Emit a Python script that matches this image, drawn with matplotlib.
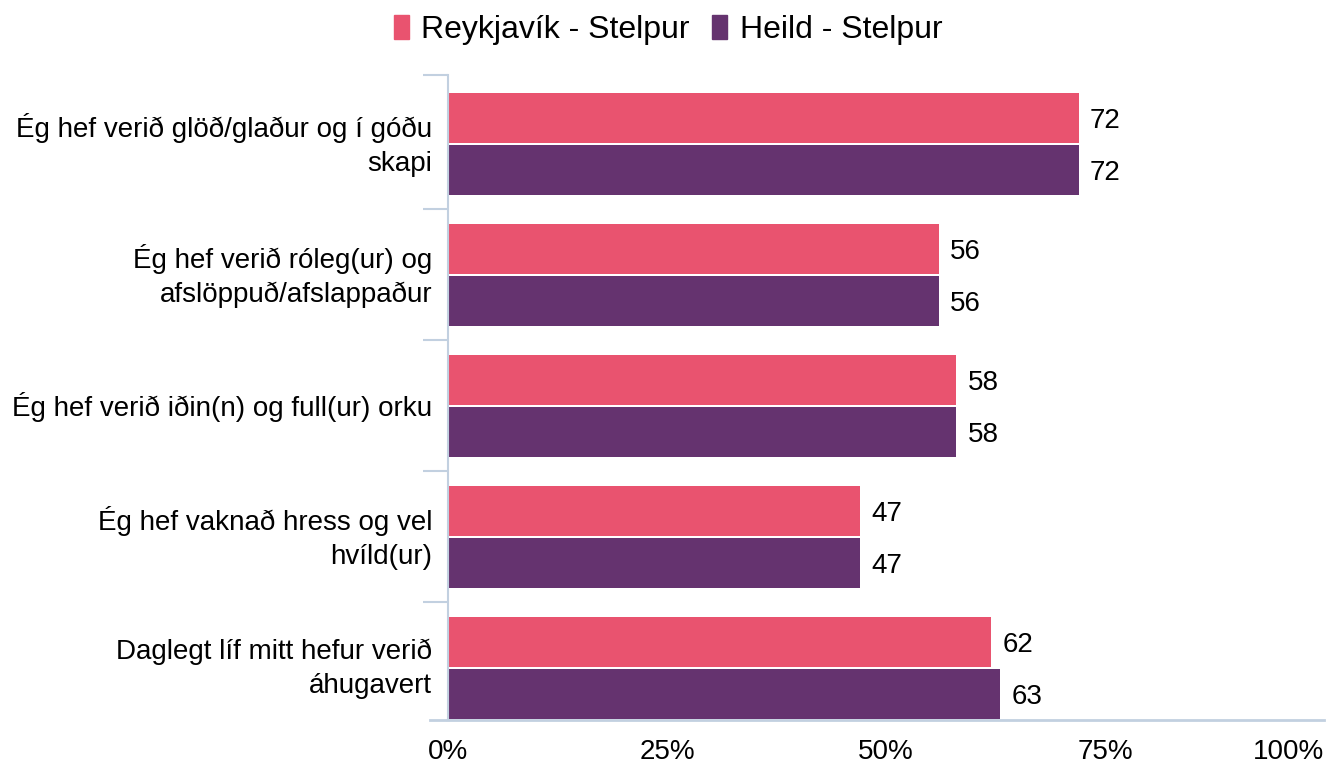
import matplotlib
matplotlib.use("Agg")
import matplotlib.pyplot as plt
from matplotlib.patches import Patch
from matplotlib.lines import Line2D
import numpy as np

categories = [
    "Ég hef verið glöð/glaður og í góðu\nskapi",
    "Ég hef verið róleg(ur) og\nafslöppuð/afslappaður",
    "Ég hef verið iðin(n) og full(ur) orku",
    "Ég hef vaknað hress og vel\nhvíld(ur)",
    "Daglegt líf mitt hefur verið\náhugavert",
]
series_names = ["Reykjavík - Stelpur", "Heild - Stelpur"]
reykjavik = [72, 56, 58, 47, 62]
heild = [72, 56, 58, 47, 63]
xticks = [0, 25, 50, 75, 100]
xticklabels = ["0%", "25%", "50%", "75%", "100%"]

colors = ["#E9536F", "#65336F"]
axis_color = "#C2D0E0"

plt.rcParams['font.family'] = ['Liberation Sans', 'DejaVu Sans']

W, H = 1330, 765
fig = plt.figure(figsize=(W / 100, H / 100), dpi=100)
left, right, top, bottom = 448, 1324, 75, 720
ax = fig.add_axes([left / W, 1 - bottom / H, (right - left) / W, (bottom - top) / H])

y = np.arange(len(categories))
bh = 0.382
off = 0.199
ax.barh(y - off, reykjavik, height=bh, color=colors[0], zorder=2)
ax.barh(y + off, heild, height=bh, color=colors[1], zorder=2)

dy = 0.025
for yi, v in zip(y, reykjavik):
    ax.text(v + 1.3, yi - off + dy, f"{v}", va="center", ha="left", fontsize=20, color="black")
for yi, v in zip(y, heild):
    ax.text(v + 1.3, yi + off + dy, f"{v}", va="center", ha="left", fontsize=20, color="black")

ax.set_xlim(0, 100)
ax.set_ylim(4.40, -0.527)

for s in ["top", "right", "bottom"]:
    ax.spines[s].set_visible(False)
ax.spines["left"].set_color(axis_color)
ax.spines["left"].set_linewidth(1.5)

# category boundary ticks
ax.set_yticks([-0.527, 0.5, 1.5, 2.5, 3.5])
ax.set_yticklabels([])
ax.tick_params(axis="y", length=18, width=1.5, color=axis_color)
for yi, lab in zip(y, categories):
    ax.text(-0.018, yi + 0.01, lab, transform=ax.get_yaxis_transform(), ha="right", va="center",
            fontsize=20, linespacing=1.38)

ax.set_xticks(xticks)
ax.set_xticklabels(xticklabels, fontsize=20)
ax.tick_params(axis="x", length=0, pad=14)
labs = ax.get_xticklabels()
labs[-1].set_horizontalalignment("right")
labs[-1].set_x(100.3)

# bottom axis line extending left
ax.add_line(Line2D([-18 / (right - left), 1.0], [0, 0], transform=ax.transAxes,
                   color=axis_color, lw=2, clip_on=False))

handles = [Patch(color=c, label=n) for c, n in zip(colors, series_names)]
fig.legend(handles=handles, loc="center", bbox_to_anchor=(668 / W, 1 - 30 / H), ncol=2,
           frameon=False, fontsize=23, handlelength=0.47, handleheight=0.75,
           handletextpad=0.38, columnspacing=0.72, borderpad=0, borderaxespad=0)

fig.savefig("out.png", dpi=100)
